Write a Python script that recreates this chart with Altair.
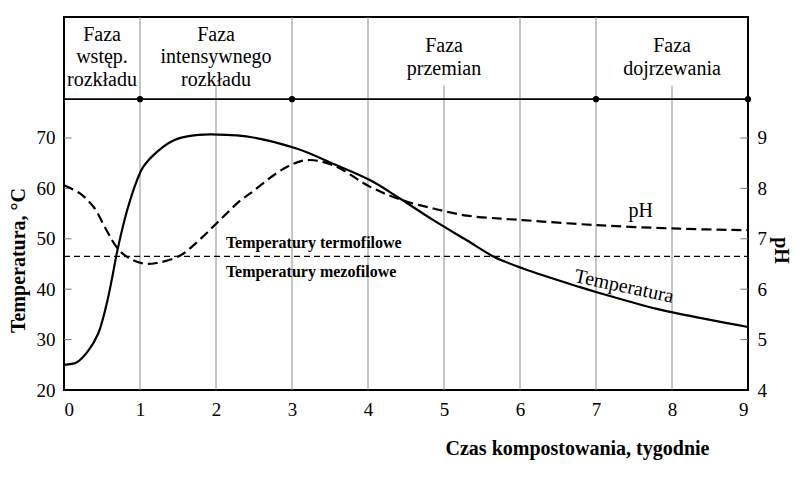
import altair as alt
import pandas as pd

SERIF = "Liberation Serif"

# Temperature of the compost pile, °C, against composting time in weeks
temp_weeks = [0.0, 0.17, 0.32, 0.45, 0.56, 0.63, 0.70, 0.83, 0.96, 1.04, 1.22, 1.44,
              1.66, 1.92, 2.14, 2.45, 3.06, 3.54, 4.03, 4.42, 4.86, 5.30, 5.65, 6.04,
              6.79, 7.01, 7.80, 8.10, 9.0]
temp_values = [25.0, 25.5, 27.8, 31.2, 37.0, 42.0, 47.5, 55.6, 61.6, 64.2, 67.2, 69.5,
               70.4, 70.7, 70.6, 70.2, 67.9, 64.9, 61.6, 58.0, 53.7, 49.7, 46.5, 44.1,
               40.4, 39.4, 36.1, 35.1, 32.5]

# pH of the compost against composting time in weeks
ph_weeks = [0.0, 0.21, 0.39, 0.56, 0.69, 0.83, 1.04, 1.22, 1.53, 1.79, 2.05, 2.32,
            2.45, 2.89, 3.19, 3.54, 4.03, 4.42, 4.86, 5.30, 5.74, 6.04, 7.01, 8.10, 9.0]
ph_values = [8.06, 7.90, 7.63, 7.17, 6.84, 6.64, 6.51, 6.52, 6.67, 6.99, 7.37, 7.76,
             7.90, 8.39, 8.56, 8.46, 8.03, 7.78, 7.60, 7.46, 7.40, 7.37, 7.27, 7.20, 7.17]

# Composting phases: boundaries (weeks) and their names
phase_bounds = [0, 1, 3, 7, 9]
phase_names = ["Faza\nwstęp.\nrozkładu", "Faza\nintensywnego\nrozkładu",
               "Faza\nprzemian", "Faza\ndojrzewania"]

# Border between thermophilic and mesophilic temperatures, °C
thermo_limit = 46.5

x_ticks = list(range(0, 10))
temp_ticks = [20, 30, 40, 50, 60, 70]
ph_ticks = [4, 5, 6, 7, 8, 9]

# Scale extents (the band above 70 °C holds the phase names)
T_MIN, T_MAX = 20, 94
PH_MIN = 4
PH_MAX = PH_MIN + (T_MAX - T_MIN) / 10
PHASE_LINE_T = 77.7
LABEL_T = 86.0          # vertical centre of each phase name block
LABEL_LINE_T = 4.46     # one text line of the phase names, in °C units
LABEL_BOTTOM_T = 80.4   # gridlines under a phase name stop here

x_scale = alt.Scale(domain=[0, 9], nice=False, zero=False)
t_scale = alt.Scale(domain=[T_MIN, T_MAX], nice=False, zero=False)
ph_scale = alt.Scale(domain=[PH_MIN, PH_MAX], nice=False, zero=False)

x_axis = alt.Axis(
    values=x_ticks, title="Czas kompostowania, tygodnie", grid=False, ticks=False,
    domain=False, labelFont=SERIF, labelFontSize=19, labelColor="black",
    labelPadding=10, titleFont=SERIF, titleFontSize=20, titleFontWeight="bold",
    titleColor="black", titleX=513, titleY=58, titleAlign="center",
    titleBaseline="middle")
t_axis = alt.Axis(
    values=temp_ticks, title="Temperatura, °C", grid=False, ticks=False,
    domain=False, labelFont=SERIF, labelFontSize=19, labelColor="black",
    labelPadding=9, titleFont=SERIF, titleFontSize=20, titleFontWeight="bold",
    titleColor="black", titleAngle=270, titleX=-46, titleY=243,
    titleAlign="center", titleBaseline="middle")
ph_axis = alt.Axis(
    orient="right", values=ph_ticks, title="pH", grid=False, ticks=False,
    domain=False, labelFont=SERIF, labelFontSize=19, labelColor="black",
    labelPadding=9, titleFont=SERIF, titleFontSize=20, titleFontWeight="bold",
    titleColor="black", titleAngle=90, titleX=32, titleY=233,
    titleAlign="center", titleBaseline="middle")


def X(field):
    return alt.X(field, scale=x_scale, axis=x_axis)


def T(field):
    return alt.Y(field, scale=t_scale, axis=t_axis)


def P(field):
    return alt.Y(field, scale=ph_scale, axis=ph_axis)


temp_df = pd.DataFrame({"week": temp_weeks, "temp": temp_values})
ph_df = pd.DataFrame({"week": ph_weeks, "ph": ph_values})

# phase names, one row per text line, stacked around the block centre
centers = [(a + b) / 2 for a, b in zip(phase_bounds[:-1], phase_bounds[1:])]
rows = []
for c, name in zip(centers, phase_names):
    lines = name.split("\n")
    n = len(lines)
    for i, line in enumerate(lines):
        rows.append({"week": c, "label": line,
                     "t": LABEL_T - (i - (n - 1) / 2) * LABEL_LINE_T})
phase_df = pd.DataFrame(rows)
dots_df = pd.DataFrame({"week": phase_bounds[1:], "t": PHASE_LINE_T})

grid_weeks = list(range(1, 9))
grid_df = pd.DataFrame({
    "week": grid_weeks,
    "t0": T_MIN,
    "t1": [LABEL_BOTTOM_T if w in centers else T_MAX for w in grid_weeks],
})

grid = alt.Chart(grid_df).mark_rule(color="#8c8c8c", strokeWidth=1).encode(
    x=X("week:Q"), y=T("t0:Q"), y2="t1:Q")

phase_line = alt.Chart(pd.DataFrame({"w0": [0], "w1": [9], "t": [PHASE_LINE_T]})).mark_rule(
    color="black", strokeWidth=1.6).encode(x=X("w0:Q"), x2="w1:Q", y=T("t:Q"))

dots = alt.Chart(dots_df).mark_circle(color="black", opacity=1, size=38).encode(
    x=X("week:Q"), y=T("t:Q"))

phase_text = alt.Chart(phase_df).mark_text(
    font=SERIF, fontSize=20, align="center", baseline="middle", color="black").encode(
    x=X("week:Q"), y=T("t:Q"), text="label:N")

limit_line = alt.Chart(pd.DataFrame({"w0": [0], "w1": [9], "t": [thermo_limit]})).mark_rule(
    color="black", strokeWidth=1.2, strokeDash=[6, 4]).encode(
    x=X("w0:Q"), x2="w1:Q", y=T("t:Q"))

notes_df = pd.DataFrame({
    "week": [2.13, 2.13],
    "t": [49.1, 43.4],
    "label": ["Temperatury termofilowe", "Temperatury mezofilowe"],
})
notes_bold = alt.Chart(notes_df).mark_text(
    font=SERIF, fontSize=16, fontWeight="bold", align="left", baseline="middle",
    color="black").encode(x=X("week:Q"), y=T("t:Q"), text="label:N")

note_ph = alt.Chart(pd.DataFrame({"week": [7.59], "t": [55.6], "label": ["pH"]})).mark_text(
    font=SERIF, fontSize=20, align="center", baseline="middle", color="black").encode(
    x=X("week:Q"), y=T("t:Q"), text="label:N")

temp_label = alt.Chart(pd.DataFrame({"week": [7.37], "t": [40.55], "label": ["Temperatura"]})).mark_text(
    font=SERIF, fontSize=20, align="center", baseline="middle", angle=12, color="black").encode(
    x=X("week:Q"), y=T("t:Q"), text="label:N")

# short inward ticks on both vertical axes
left_ticks = alt.Chart(pd.DataFrame({"t": temp_ticks[1:], "w0": 0.0, "w1": 0.1})).mark_rule(
    color="#777777", strokeWidth=1).encode(x=X("w0:Q"), x2="w1:Q", y=T("t:Q"))

temp_line = alt.Chart(temp_df).mark_line(
    color="black", strokeWidth=2.2, interpolate="catmull-rom").encode(
    x=X("week:Q"), y=T("temp:Q"))

ph_line = alt.Chart(ph_df).mark_line(
    color="black", strokeWidth=2.2, strokeDash=[10, 5], interpolate="catmull-rom").encode(
    x=X("week:Q"), y=P("ph:Q"))

right_ticks = alt.Chart(pd.DataFrame({"p": ph_ticks[1:], "w0": 8.9, "w1": 9.0})).mark_rule(
    color="#777777", strokeWidth=1).encode(x=X("w0:Q"), x2="w1:Q", y=P("p:Q"))

temp_group = alt.layer(grid, left_ticks, limit_line, phase_line, phase_text,
                       notes_bold, note_ph, temp_label, temp_line, dots)
ph_group = alt.layer(right_ticks, ph_line)

chart = alt.layer(temp_group, ph_group).resolve_scale(y="independent").properties(
    width=684, height=373,
    autosize=alt.AutoSizeParams(type="none"),
    padding={"left": 64, "top": 17, "right": 52, "bottom": 96},
    background="white",
).configure_view(stroke="black", strokeWidth=2)

chart.save("out.html", embed_options={"renderer": "svg", "actions": False})
